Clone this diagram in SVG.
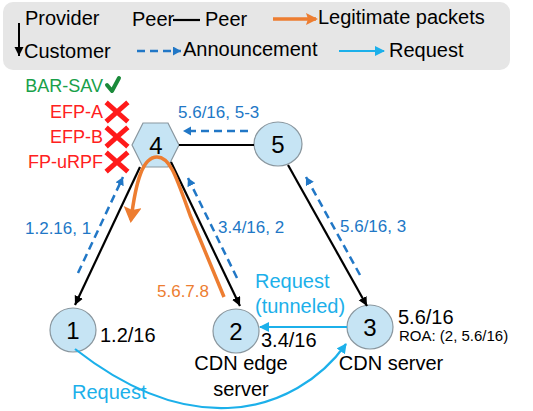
<svg xmlns="http://www.w3.org/2000/svg" width="533" height="411" viewBox="0 0 533 411">
  <style>
    text { font-family: "Liberation Sans", Arial, sans-serif; }
    .lg { font-size: 20px; fill: #000; }
    .node { fill: #c6e4f4; stroke: #8a979f; stroke-width: 1.2; }
    .num { font-size: 24px; fill: #000; text-anchor: middle; }
    .pfx { font-size: 20px; fill: #000; }
    .ann { font-size: 17px; fill: #2177c6; }
    .req { font-size: 20px; fill: #1cb0ea; }
    .cust { stroke: #000; stroke-width: 2.2; fill: none; }
    .annl { stroke: #2177c6; stroke-width: 2.5; stroke-dasharray: 8 5; fill: none; }
    .reql { stroke: #1cb0ea; stroke-width: 2.2; fill: none; }
    .pkt { stroke: #ed7d31; stroke-width: 3.5; fill: none; }
    .bad { stroke: #ff1a1a; stroke-width: 5; stroke-linecap: square; }
    .sav { font-size: 18px; text-anchor: end; }
  </style>
  <defs>
    <marker id="ahBlack" markerUnits="userSpaceOnUse" markerWidth="10" markerHeight="10" refX="9" refY="4.5" orient="auto">
      <path d="M0,0 L9,4.5 L0,9 z" fill="#000"/>
    </marker>
    <marker id="ahAnn" markerUnits="userSpaceOnUse" markerWidth="10" markerHeight="10" refX="8" refY="4.5" orient="auto">
      <path d="M0,0 L8,4.5 L0,9 z" fill="#2177c6"/>
    </marker>
    <marker id="ahReq" markerUnits="userSpaceOnUse" markerWidth="11" markerHeight="11" refX="9" refY="5" orient="auto">
      <path d="M0,0 L10,5 L0,10 z" fill="#1cb0ea"/>
    </marker>
    <marker id="ahPkt" markerUnits="userSpaceOnUse" markerWidth="18" markerHeight="20" refX="13" refY="9" orient="auto">
      <path d="M0,0 L16,9 L0,18 L3,9 z" fill="#ed7d31"/>
    </marker>
    <marker id="ahPktSmall" markerUnits="userSpaceOnUse" markerWidth="14" markerHeight="14" refX="10" refY="6" orient="auto">
      <path d="M0,0 L12,6 L0,12 L2,6 z" fill="#ed7d31"/>
    </marker>
  </defs>

  <!-- legend -->
  <g id="legend">
    <rect x="3" y="2" width="507" height="68" rx="10" fill="#e6e6e6"/>
    <line x1="19" y1="23" x2="19" y2="56" stroke="#000" stroke-width="2" marker-end="url(#ahBlack)"/>
    <text class="lg" x="25" y="25">Provider</text>
    <text class="lg" x="24" y="58">Customer</text>
    <text class="lg" x="132" y="26">Peer</text>
    <line x1="173" y1="20" x2="200" y2="20" stroke="#000" stroke-width="2.2"/>
    <text class="lg" x="205" y="26">Peer</text>
    <line x1="273" y1="19" x2="316" y2="19" class="pkt" marker-end="url(#ahPktSmall)"/>
    <text class="lg" x="318" y="24">Legitimate packets</text>
    <line x1="137" y1="51" x2="181" y2="51" class="annl" stroke-dasharray="9 6" marker-end="url(#ahAnn)"/>
    <text class="lg" x="183" y="56">Announcement</text>
    <line x1="339" y1="51" x2="384" y2="51" class="reql" marker-end="url(#ahReq)"/>
    <text class="lg" x="389" y="57">Request</text>
  </g>

  <!-- validation results at AS 4 -->
  <g id="results">
    <text class="sav" x="103" y="92" fill="#18a04a">BAR-SAV</text>
    <path d="M107,85 L112,91 L119,78" fill="none" stroke="#1a8a3a" stroke-width="4" stroke-linecap="round" stroke-linejoin="round"/>
    <text class="sav" x="103" y="118" fill="#ff2020">EFP-A</text>
    <path class="bad" d="M108,104 L126,120 M126,104 L108,120"/>
    <text class="sav" x="103" y="143" fill="#ff2020">EFP-B</text>
    <path class="bad" d="M108,129 L126,145 M126,129 L108,145"/>
    <text class="sav" x="103" y="168" fill="#ff2020">FP-uRPF</text>
    <path class="bad" d="M108,154 L126,170 M126,154 L108,170"/>
  </g>

  <!-- AS nodes -->
  <g id="as4">
    <polygon class="node" points="132,145 143,123 168,123 179,145 168,167 143,167"/>
    <text class="num" x="156" y="154">4</text>
  </g>
  <g id="as5">
    <ellipse class="node" cx="278" cy="144" rx="24" ry="22"/>
    <text class="num" x="278" y="153">5</text>
  </g>
  <g id="as1">
    <ellipse class="node" cx="73" cy="330" rx="23" ry="22"/>
    <text class="num" x="73" y="339">1</text>
    <text class="pfx" x="100" y="342">1.2/16</text>
  </g>
  <g id="as2">
    <ellipse class="node" cx="236" cy="331" rx="23" ry="22"/>
    <text class="num" x="236" y="340">2</text>
    <text class="pfx" x="261" y="347">3.4/16</text>
    <text class="pfx" x="241" y="370" text-anchor="middle">CDN edge</text>
    <text class="pfx" x="241" y="396" text-anchor="middle">server</text>
  </g>
  <g id="as3">
    <ellipse class="node" cx="370" cy="327" rx="23" ry="22"/>
    <text class="num" x="370" y="336">3</text>
    <text class="pfx" x="398" y="324">5.6/16</text>
    <text x="399" y="341" font-size="15" fill="#000">ROA: (2, 5.6/16)</text>
    <text class="pfx" x="391" y="370" text-anchor="middle">CDN server</text>
  </g>

  <!-- connectors -->
  <g id="connectors">
    <!-- provider to customer -->
    <line class="cust" x1="140" y1="167" x2="75" y2="305" marker-end="url(#ahBlack)"/>
    <line class="cust" x1="171" y1="162" x2="240" y2="306" marker-end="url(#ahBlack)"/>
    <line class="cust" x1="288" y1="165" x2="367" y2="306" marker-end="url(#ahBlack)"/>
    <!-- peer -->
    <line class="cust" x1="179" y1="145" x2="254" y2="145"/>
    <!-- announcements -->
    <line class="annl" x1="78" y1="273" x2="123" y2="177" marker-end="url(#ahAnn)"/>
    <line class="annl" x1="237" y1="278" x2="188" y2="178" marker-end="url(#ahAnn)"/>
    <line class="annl" x1="360" y1="275" x2="306" y2="177" marker-end="url(#ahAnn)"/>
    <line class="annl" x1="248" y1="131" x2="183" y2="131" marker-end="url(#ahAnn)"/>
    <text class="ann" x="25" y="234">1.2.16, 1</text>
    <text class="ann" x="218" y="233">3.4/16, 2</text>
    <text class="ann" x="340" y="232">5.6/16, 3</text>
    <text class="ann" x="178" y="118">5.6/16, 5-3</text>
    <!-- legitimate packets bounced back at 4 -->
    <path class="pkt" d="M224,297 L190,215 C176,176 170,157 157,157 C143,157 136,180 131,220" marker-end="url(#ahPkt)"/>
    <text x="157" y="297" font-size="17" fill="#ed7d31">5.6.7.8</text>
    <!-- requests -->
    <line class="reql" x1="347" y1="327" x2="260" y2="327" marker-end="url(#ahReq)"/>
    <path class="reql" d="M75,349 C130,392 180,410 228,408 C280,406 322,378 346,344" marker-end="url(#ahReq)"/>
    <text class="req" x="255" y="288">Request</text>
    <text class="req" x="255" y="313">(tunneled)</text>
    <text class="req" x="72" y="399">Request</text>
  </g>
</svg>
